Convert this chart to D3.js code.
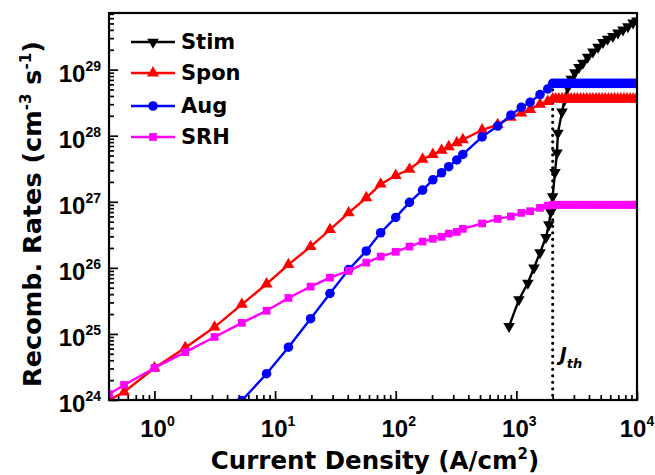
<!DOCTYPE html>
<html>
<head>
<meta charset="utf-8">
<script src="https://cdnjs.cloudflare.com/ajax/libs/d3/7.8.5/d3.min.js"></script>
<style>
	body { margin: 0; background: #fff; }
	text { font-family: "DejaVu Sans", sans-serif; font-weight: bold; fill: #000; }
	text.tick-label { font-family: Arial, "Liberation Sans", sans-serif; }
</style>
</head>
<body>
<svg id="chart" width="655" height="475"></svg>
<script>
	//current density points below threshold (A/cm2)
var current = [0.42, 0.56, 1.0, 1.8, 3.15, 5.3, 8.5, 12.9, 19.7, 28.5, 40.7, 57, 75, 100, 130, 167, 203, 240, 275, 321, 360, 520, 700, 900, 1100, 1300, 1570, 1820, 2000];

	//recombination rates (cm-3 s-1) at those currents
var spon = [1.0e24, 1.32e24, 3.05e24, 6.2e24, 1.27e25, 2.8e25, 5.7e25, 1.12e26, 2.1e26, 3.8e26, 6.8e26, 1.15e27, 1.85e27, 2.5e27, 3.1e27, 4.4e27, 5.2e27, 6.0e27, 6.8e27, 7.8e27, 8.7e27, 1.22e28, 1.47e28, 1.9e28, 2.2e28, 2.5e28, 3.0e28, 3.3e28, 3.6e28];
var aug = [null, null, null, null, null, 0.98e24, 2.5e24, 6.3e24, 1.7e25, 4.1e25, 9.4e25, 1.8e26, 3.4e26, 5.8e26, 9.8e26, 1.5e27, 2.15e27, 2.75e27, 3.4e27, 4.3e27, 5.2e27, 9.6e27, 1.4e28, 2.05e28, 2.7e28, 3.2e28, 4.2e28, 5.1e28, 6.2e28];
var srh = [1.23e24, 1.69e24, 3.05e24, 5.3e24, 9.0e24, 1.47e25, 2.24e25, 3.5e25, 5.2e25, 7.1e25, 9.0e25, 1.2e26, 1.48e26, 1.75e26, 2.1e26, 2.5e26, 2.75e26, 2.95e26, 3.3e26, 3.5e26, 3.9e26, 4.7e26, 5.5e26, 6.0e26, 6.8e26, 7.2e26, 8.1e26, 8.7e26, 9.0e26];

	//above threshold the rates stay clamped
var plateauJ = [2120, 2250, 2390, 2530, 2690, 2850, 3020, 3210, 3400, 3610, 3830, 4060, 4310, 4570, 4850, 5150, 5460, 5790, 6140, 6520, 6920, 7340, 7790, 8260, 8770, 9300, 9870];
var sponLevel = 3.6e28;
var augLevel = 6.2e28;
var srhLevel = 9.0e26;

	//stimulated recombination
var stimJ = [870, 1050, 1245, 1400, 1570, 1760, 1860, 1930, 2000, 2090, 2170, 2210, 2390, 2510, 2670, 2850, 3050, 3300, 3560, 3900, 4310, 4750, 5220, 5700, 6310, 6950, 7650, 8400, 9270, 10000];
var stimR = [1.3e25, 3.3e25, 5.9e25, 1.0e26, 1.7e26, 2.9e26, 4.5e26, 7.0e26, 1.2e27, 2.8e27, 5.5e27, 1.1e28, 2.3e28, 3.5e28, 5.4e28, 7.2e28, 9.0e28, 1.08e29, 1.26e29, 1.55e29, 1.86e29, 2.2e29, 2.6e29, 2.9e29, 3.2e29, 3.6e29, 4.0e29, 4.5e29, 5.1e29, 5.5e29];

var jth = 2000;
var xDecades = [1, 10, 100, 1000, 10000];
var xExp = ['0', '1', '2', '3', '4'];
var yDecades = [1e24, 1e25, 1e26, 1e27, 1e28, 1e29];
var yExp = ['24', '25', '26', '27', '28', '29'];

var svg = d3.select('#chart');
var plotLeft = 109, plotRight = 637, plotTop = 13, plotBottom = 400;

var x = d3.scaleLog().domain([0.42, 1e4]).range([plotLeft, plotRight]);
var y = d3.scaleLog().domain([1e24, 7.2e29]).range([plotBottom, plotTop]);

svg.append('rect').attr('width', 655).attr('height', 475).attr('fill', '#fff');

svg.append('defs').append('clipPath').attr('id', 'plot-clip')
	.append('rect').attr('x', plotLeft).attr('y', plotTop)
	.attr('width', plotRight - plotLeft).attr('height', plotBottom - plotTop);

	//minor ticks: 2..9 of each decade that falls in the domain
function minorTicks(scale) {
	var d = scale.domain(), out = [];
	for (var e = Math.floor(Math.log10(d[0])); e <= Math.ceil(Math.log10(d[1])); e++) {
		for (var k = 2; k <= 9; k++) {
			var v = k * Math.pow(10, e);
			if (v >= d[0] && v <= d[1]) out.push(v);
		}
	}
	return out;
}

function axisStyle(g) {
	g.select('.domain').remove();
	g.selectAll('line').attr('stroke', '#000').attr('stroke-width', 1.7);
}

svg.append('g').attr('transform', 'translate(0,' + plotBottom + ')')
	.call(d3.axisBottom(x).tickValues(minorTicks(x)).tickSize(-5).tickFormat(''))
	.call(axisStyle);
svg.append('g').attr('transform', 'translate(0,' + plotBottom + ')')
	.call(d3.axisBottom(x).tickValues(xDecades).tickSize(-9).tickFormat(''))
	.call(axisStyle);
svg.append('g').attr('transform', 'translate(' + plotLeft + ',0)')
	.call(d3.axisLeft(y).tickValues(minorTicks(y)).tickSize(-5).tickFormat(''))
	.call(axisStyle);
svg.append('g').attr('transform', 'translate(' + plotLeft + ',0)')
	.call(d3.axisLeft(y).tickValues(yDecades).tickSize(-9).tickFormat(''))
	.call(axisStyle);

	//tick labels with superscripts
xDecades.forEach(function(v, i) {
	var t = svg.append('text').attr('class', 'tick-label')
		.attr('x', Math.min(x(v) + 3, 637)).attr('y', plotBottom + 37)
		.attr('text-anchor', 'middle').style('font-size', '24px');
	t.append('tspan').text('10');
	t.append('tspan').attr('dy', -11).style('font-size', '14px').text(xExp[i]);
});

yDecades.forEach(function(v, i) {
	var t = svg.append('text').attr('class', 'tick-label')
		.attr('x', 101).attr('y', y(v) + 12)
		.attr('text-anchor', 'end').style('font-size', '24px');
	t.append('tspan').text('10');
	t.append('tspan').attr('dy', -11).style('font-size', '14px').text(yExp[i]);
});

	//axis titles
var xt = svg.append('text').attr('x', 375).attr('y', 469).attr('text-anchor', 'middle').style('font-size', '24.5px');
xt.append('tspan').text('Current Density (A/cm');
xt.append('tspan').attr('dy', -10).style('font-size', '15px').text('2');
xt.append('tspan').attr('dy', 10).text(')');

var yt = svg.append('text').attr('transform', 'translate(41,214) rotate(-90)').attr('text-anchor', 'middle').style('font-size', '25.5px');
yt.append('tspan').text('Recomb. Rates (cm');
yt.append('tspan').attr('dy', -10).style('font-size', '15px').text('-3');
yt.append('tspan').attr('dy', 10).text(' s');
yt.append('tspan').attr('dy', -10).style('font-size', '15px').text('-1');
yt.append('tspan').attr('dy', 10).text(')');

	//threshold marker
svg.append('line')
	.attr('x1', x(jth)).attr('x2', x(jth))
	.attr('y1', y(augLevel)).attr('y2', plotBottom)
	.attr('stroke', '#000').attr('stroke-width', 3.2)
	.attr('stroke-linecap', 'round').attr('stroke-dasharray', '0,6.5');

var jt = svg.append('text').attr('x', x(jth) + 7).attr('y', 361).style('font-size', '19px').style('font-style', 'italic');
jt.append('tspan').text('J');
jt.append('tspan').attr('dy', 7).style('font-size', '13px').text('th');

var series = [
	{ name: 'Stim', color: '#000000', symbol: d3.symbolTriangle, size: 58, rotate: 180,
		data: stimJ.map(function(j, i) { return [j, stimR[i]]; }) },
	{ name: 'Spon', color: '#ff0000', symbol: d3.symbolTriangle, size: 62, rotate: 0,
		data: current.map(function(j, i) { return [j, spon[i]]; }).concat(plateauJ.map(function(j) { return [j, sponLevel]; })) },
	{ name: 'Aug', color: '#0000ff', symbol: d3.symbolCircle, size: 72, rotate: 0,
		data: current.map(function(j, i) { return [j, aug[i]]; }).concat(plateauJ.map(function(j) { return [j, augLevel]; })) },
	{ name: 'SRH', color: '#ff00ff', symbol: d3.symbolSquare, size: 60, rotate: 0,
		data: current.map(function(j, i) { return [j, srh[i]]; }).concat(plateauJ.map(function(j) { return [j, srhLevel]; })) }
];

var line = d3.line().x(function(d) { return x(d[0]); }).y(function(d) { return y(d[1]); });
var plot = svg.append('g').attr('clip-path', 'url(#plot-clip)');

series.forEach(function(s) {
	var pts = s.data.filter(function(d) { return d[1] != null; });
	plot.append('path').datum(pts)
		.attr('d', line).attr('fill', 'none')
		.attr('stroke', s.color).attr('stroke-width', 2.4);
	plot.selectAll(null).data(pts).enter().append('path')
		.attr('d', d3.symbol().type(s.symbol).size(s.size))
		.attr('transform', function(d) { return 'translate(' + x(d[0]) + ',' + y(d[1]) + ') rotate(' + s.rotate + ')'; })
		.attr('fill', s.color);
});

	//frame
svg.append('rect').attr('x', plotLeft).attr('y', plotTop)
	.attr('width', plotRight - plotLeft).attr('height', plotBottom - plotTop)
	.attr('fill', 'none').attr('stroke', '#000').attr('stroke-width', 2.2);

	//legend
var legendRows = [42, 73, 106, 137];
var legend = svg.append('g');
series.forEach(function(s, i) {
	var ly = legendRows[i];
	legend.append('line').attr('x1', 131).attr('x2', 175).attr('y1', ly).attr('y2', ly)
		.attr('stroke', s.color).attr('stroke-width', 2.4);
	legend.append('path')
		.attr('d', d3.symbol().type(s.symbol).size(s.size))
		.attr('transform', 'translate(153,' + ly + ') rotate(' + s.rotate + ')')
		.attr('fill', s.color);
	legend.append('text').attr('x', 181).attr('y', ly + 7).style('font-size', '21px').text(s.name);
});
</script>
</body>
</html>
